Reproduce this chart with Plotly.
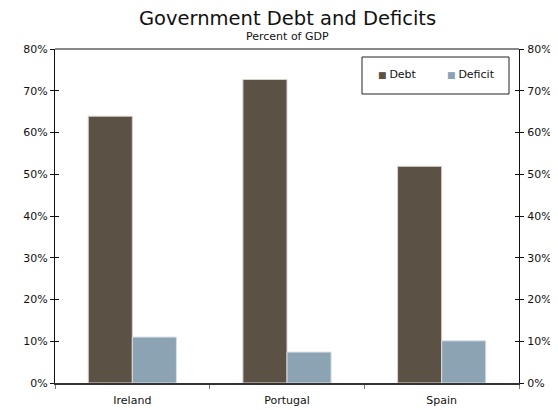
import plotly.graph_objects as go

categories = ["Ireland", "Portugal", "Spain"]
debt = [0.639, 0.727, 0.519]
deficit = [0.110, 0.074, 0.101]
y_ticks = [0, 0.1, 0.2, 0.3, 0.4, 0.5, 0.6, 0.7, 0.8]
series_names = ["Debt", "Deficit"]
series_colors = ["#5c5145", "#8ba3b3"]

FONT = "DejaVu Sans"
OFF = 8  # page body margin of the browser
W, H = 558 - OFF, 410 - OFF
L, R, T, B = 55 - OFF, 39, 49 - OFF, 27
PW, PH = W - L - R, H - T - B


def px_x(x):
    # x given in page pixels
    return (x - OFF - L) / PW


def px_y(y):
    return (H - B - (y - OFF)) / PH


fig = go.Figure()
fig.add_trace(go.Bar(x=categories, y=debt, name=series_names[0],
                     marker=dict(color=series_colors[0], line=dict(color="#d8d2cc", width=1))))
fig.add_trace(go.Bar(x=categories, y=deficit, name=series_names[1],
                     marker=dict(color=series_colors[1], line=dict(color="#d8dde2", width=1))))
# carrier for the right-hand axis
fig.add_trace(go.Scatter(x=categories, y=[None] * len(categories), yaxis="y2",
                         showlegend=False, hoverinfo="skip", mode="markers"))

fig.update_layout(
    width=W, height=H,
    margin=dict(l=L, r=R, t=T, b=B, autoexpand=False),
    paper_bgcolor="white", plot_bgcolor="white",
    font=dict(family=FONT, size=11, color="#111"),
    barmode="group", bargap=0.43, bargroupgap=0,
    showlegend=False,
    xaxis=dict(showline=True, linecolor="#333", linewidth=1.5, mirror=False,
               ticks="outside", tickson="boundaries", ticklen=4, tickcolor="#777",
               ticklabelstandoff=6,
               showgrid=False, tickfont=dict(size=11), automargin=False),
    yaxis=dict(range=[0, 0.8], tickvals=y_ticks, tickformat=".0%",
               showline=True, linecolor="#111", linewidth=1, mirror="ticks",
               ticks="outside", ticklen=4, tickcolor="#111",
               showgrid=False, zeroline=False, tickfont=dict(size=11), automargin=False),
    yaxis2=dict(range=[0, 0.8], tickvals=y_ticks, tickformat=".0%",
                overlaying="y", side="right", anchor="x",
                showline=True, linecolor="#111", linewidth=1, mirror="ticks",
                ticks="inside", ticklen=4, tickcolor="#111", ticklabelstandoff=5,
                showgrid=False, zeroline=False, tickfont=dict(size=11), automargin=False),
)

# titles
fig.add_annotation(text="Government Debt and Deficits", xref="paper", yref="paper",
                   x=0.5, y=px_y(18.5), xanchor="center", yanchor="middle", showarrow=False,
                   font=dict(size=19.5, color="#111"))
fig.add_annotation(text="Percent of GDP", xref="paper", yref="paper",
                   x=0.5, y=px_y(37), xanchor="center", yanchor="middle", showarrow=False,
                   font=dict(size=11, color="#111"))

# top frame line
fig.add_shape(type="line", xref="paper", yref="paper", x0=0, x1=1, y0=1, y1=1,
              line=dict(color="#111", width=1))

# legend box
fig.add_shape(type="rect", xref="paper", yref="paper",
              x0=px_x(362), x1=px_x(509), y0=px_y(94), y1=px_y(57),
              line=dict(color="#222", width=1), fillcolor="white", layer="above")
for name, color, xpos in zip(series_names, series_colors, [376, 445]):
    fig.add_annotation(
        text=f"<span style='color:{color};font-size:9px'>■ </span>{name}",
        xref="paper", yref="paper", x=px_x(xpos), y=px_y(75),
        xanchor="left", yanchor="middle", showarrow=False,
        font=dict(size=11, color="#111"))

fig.write_html("out.html")
